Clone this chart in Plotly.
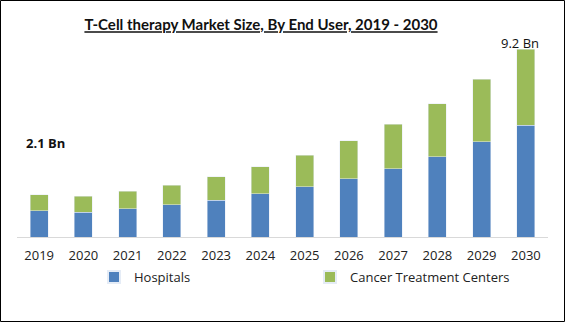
import plotly.graph_objects as go

years = ["2019", "2020", "2021", "2022", "2023", "2024", "2025", "2026", "2027", "2028", "2029", "2030"]
hospitals = [1.29, 1.22, 1.39, 1.57, 1.81, 2.12, 2.46, 2.84, 3.33, 3.93, 4.65, 5.48]
cancer_centers = [0.77, 0.78, 0.86, 0.97, 1.13, 1.31, 1.55, 1.86, 2.20, 2.58, 3.08, 3.72]
title_text = "T-Cell therapy Market Size, By End User, 2019 - 2030"
label_first = "2.1 Bn"
label_last = "9.2 Bn"

W, H = 565, 322
ml, mr, mt, mb = 17, 17, 40, 85
pw, ph = W - ml - mr, H - mt - mb
font = "Open Sans, Lato, sans-serif"

fig = go.Figure()
fig.add_trace(go.Bar(x=years, y=hospitals, name="Hospitals", marker_color="#4F81BD", width=0.41))
fig.add_trace(go.Bar(x=years, y=cancer_centers, name="Cancer Treatment Centers", marker_color="#9BBB59", width=0.41))

totals = [a + b for a, b in zip(hospitals, cancer_centers)]

fig.update_layout(
    width=W, height=H,
    barmode="stack",
    margin=dict(l=ml, r=mr, t=mt, b=mb),
    paper_bgcolor="white", plot_bgcolor="white",
    font=dict(family=font, size=13, color="#222"),
    title=dict(text="<b><u>" + title_text + "</u></b>", x=261 / W, xanchor="center", xref="container",
               y=1 - 25 / H, yanchor="middle", yref="container",
               font=dict(family="Lato, Open Sans, sans-serif", size=15, color="#111")),
    xaxis=dict(type="category", range=[-0.5, len(years) - 0.5], showline=True, linecolor="#D9D9D9",
               linewidth=1, ticks="", showgrid=False,
               tickfont=dict(size=13, color="#222"), ticklabelstandoff=6),
    yaxis=dict(visible=False, range=[0, ph * 9.2 / 188]),
    legend=dict(orientation="h", traceorder="normal", x=(94 - ml) / pw, xanchor="left",
                y=(237 - 277) / ph, yanchor="middle",
                entrywidth=171, entrywidthmode="pixels", font=dict(size=13, color="#222"),
                itemsizing="constant"),
    showlegend=True,
)

fig.add_annotation(x=0, y=totals[0], text="<b>" + label_first + "</b>", showarrow=False,
                   xanchor="center", yanchor="bottom", yshift=41, xshift=6,
                   font=dict(size=13, color="#111"))
fig.add_annotation(x=len(years) - 1, y=totals[-1], text=label_last, showarrow=False,
                   xanchor="center", yanchor="bottom", yshift=-5, xshift=-6,
                   font=dict(size=13, color="#111"))

fig.add_shape(type="rect", xref="paper", yref="paper",
              x0=-(ml - 0.5) / pw, x1=1 + (mr - 0.5) / pw,
              y0=-(mb - 0.5) / ph, y1=1 + (mt - 0.5) / ph,
              line=dict(color="black", width=1), layer="above")

fig.write_html("out.html")
